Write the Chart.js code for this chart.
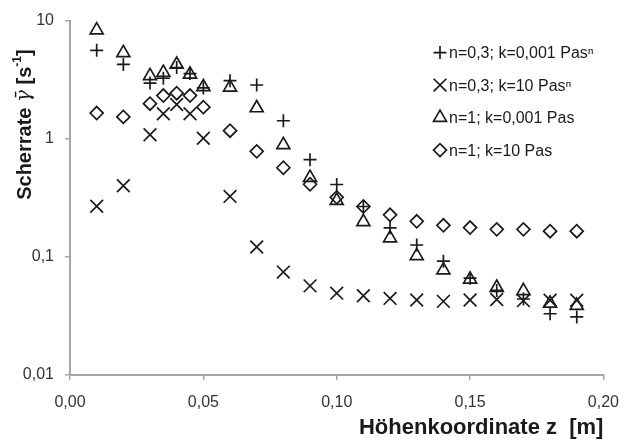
<!DOCTYPE html>
<html>
<head>
<meta charset="utf-8">
<script src="https://cdn.jsdelivr.net/npm/chart.js@4/dist/chart.umd.min.js"></script>
<style>
  html, body { margin: 0; padding: 0; background: #ffffff; }
  canvas { display: block; }
</style>
</head>
<body>
<canvas id="c" width="632" height="444"></canvas>
<script>
// ---- data ----
const zValues = [0.01, 0.02, 0.03, 0.035, 0.04, 0.045, 0.05, 0.06, 0.07, 0.08, 0.09, 0.10, 0.11, 0.12, 0.13, 0.14, 0.15, 0.16, 0.17, 0.18, 0.19];
const rateN03K0001 = [5.6, 4.26, 2.96, 3.25, 4.0, 3.56, 2.69, 3.1, 2.85, 1.42, 0.665, 0.41, 0.267, 0.176, 0.126, 0.092, 0.066, 0.052, 0.044, 0.033, 0.031];
const rateN03K10 = [0.268, 0.40, 1.08, 1.63, 1.95, 1.63, 1.01, 0.325, 0.121, 0.0743, 0.0568, 0.0493, 0.0469, 0.0445, 0.0431, 0.042, 0.0431, 0.0435, 0.0426, 0.043, 0.043];
const rateN1K0001 = [8.3, 5.33, 3.4, 3.63, 4.25, 3.51, 2.75, 2.72, 1.82, 0.887, 0.469, 0.299, 0.198, 0.144, 0.102, 0.0772, 0.0645, 0.055, 0.0516, 0.0404, 0.0387];
const rateN1K10 = [1.65, 1.53, 1.98, 2.32, 2.43, 2.32, 1.85, 1.17, 0.782, 0.568, 0.412, 0.319, 0.267, 0.227, 0.2, 0.185, 0.177, 0.171, 0.171, 0.165, 0.165];

const seriesLabels = ['n=0,3; k=0,001 Pas\u207F', 'n=0,3; k=10 Pas\u207F', 'n=1; k=0,001 Pas', 'n=1; k=10 Pas'];
const xTickValues = [0, 0.05, 0.10, 0.15, 0.20];
const xTickLabels = ['0,00', '0,05', '0,10', '0,15', '0,20'];
const yTickValues = [0.01, 0.1, 1, 10];
const yTickLabels = ['0,01', '0,1', '1', '10'];
const xTitle = 'Höhenkoordinate z  [m]';
const yTitleParts = ['Scherrate ', 'γ\u0304', ' [s', '-1', ']'];

// ---- chart ----
const FONT = '"Liberation Sans", Arial, sans-serif';
const INK = '#1a1a1a';
const AXIS = '#a6a6a6';

function pts(vals) { return zValues.map((z, i) => ({ x: z, y: vals[i] })); }

const styles = [
  { pointStyle: 'cross', radius: 6.5 },
  { pointStyle: 'crossRot', radius: 9 },
  { pointStyle: 'triangle', radius: 7.5 },
  { pointStyle: 'rectRot', radius: 6.5 }
];
const seriesValues = [rateN03K0001, rateN03K10, rateN1K0001, rateN1K10];

const datasets = seriesValues.map((vals, i) => ({
  label: seriesLabels[i],
  data: pts(vals),
  showLine: false,
  pointStyle: styles[i].pointStyle,
  pointRadius: styles[i].radius,
  pointHoverRadius: styles[i].radius,
  borderColor: INK,
  backgroundColor: 'rgba(0,0,0,0)',
  pointBorderWidth: 1.7
}));

const titlesAndLegend = {
  id: 'titlesAndLegend',
  afterDraw(chart) {
    const ctx = chart.ctx;
    const area = chart.chartArea;
    ctx.save();
    // y-axis title (rotated)
    ctx.translate(25, area.top + 104);
    ctx.rotate(-Math.PI / 2);
    ctx.fillStyle = INK;
    ctx.textBaseline = 'middle';
    const fonts = ['bold 20px ' + FONT, 'italic 20px "DejaVu Serif", serif', 'bold 20px ' + FONT, 'bold 12px ' + FONT, 'bold 20px ' + FONT];
    const dy = [0, 0, 0, -7, 0];
    let total = 0;
    const widths = yTitleParts.map((t, i) => { ctx.font = fonts[i]; const w = ctx.measureText(t).width; total += w; return w; });
    let x = -total / 2;
    yTitleParts.forEach((t, i) => {
      ctx.font = fonts[i];
      ctx.textAlign = 'left';
      ctx.fillText(t, x, dy[i]);
      x += widths[i];
    });
    ctx.restore();

    // legend
    ctx.save();
    const lx = area.left + 370, ly0 = area.top + 32, step = 32.5;
    chart.data.datasets.forEach((ds, i) => {
      const y = ly0 + i * step;
      ctx.strokeStyle = INK;
      ctx.fillStyle = 'rgba(0,0,0,0)';
      ctx.lineWidth = 1.7;
      Chart.helpers.drawPoint(ctx, { pointStyle: ds.pointStyle, radius: ds.pointRadius, rotation: 0, borderWidth: 1.7 }, lx, y);
      ctx.fillStyle = INK;
      ctx.font = '16px ' + FONT;
      ctx.textAlign = 'left';
      ctx.textBaseline = 'middle';
      ctx.fillText(ds.label, lx + 9, y + 1);
    });
    ctx.restore();
  }
};

new Chart(document.getElementById('c'), {
  type: 'scatter',
  data: { datasets },
  options: {
    responsive: false,
    animation: false,
    devicePixelRatio: 1,
    layout: { padding: { left: 0, top: 15, right: 22, bottom: 0 } },
    plugins: { legend: { display: false }, tooltip: { enabled: false } },
    scales: {
      x: {
        type: 'linear',
        min: 0, max: 0.2,
        afterBuildTicks: s => { s.ticks = xTickValues.map(v => ({ value: v })); },
        afterFit: s => { s.height = 69; },
        ticks: {
          callback: (v, i) => xTickLabels[i],
          color: '#333', font: { family: FONT, size: 16 }, padding: 13, maxRotation: 0
        },
        grid: { display: true, drawOnChartArea: false, drawTicks: true, tickLength: 5, color: AXIS, lineWidth: 1.5 },
        border: { display: true, color: AXIS, width: 2 },
        title: { display: true, text: xTitle, align: 'end', color: INK, font: { family: FONT, size: 22, weight: 'bold' }, padding: { top: 0, bottom: 3 } }
      },
      y: {
        type: 'logarithmic',
        min: 0.01, max: 10,
        afterBuildTicks: s => { s.ticks = yTickValues.map(v => ({ value: v })); },
        afterFit: s => { s.width = 70; },
        ticks: {
          callback: (v, i) => yTickLabels[i],
          color: '#333', font: { family: FONT, size: 16 }, padding: 11
        },
        grid: { display: true, drawOnChartArea: false, drawTicks: true, tickLength: 5, color: AXIS, lineWidth: 1.5 },
        border: { display: true, color: AXIS, width: 2 }
      }
    }
  },
  plugins: [titlesAndLegend]
});
</script>
</body>
</html>
